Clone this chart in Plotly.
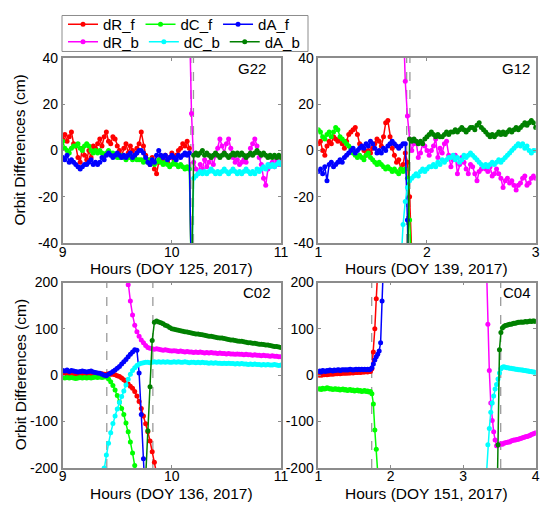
"""Orbit differences of forward (_f) and backward (_b) solutions around satellite manoeuvres."""
import numpy as np
import plotly.graph_objects as go

FONT = "Liberation Sans, Arial, sans-serif"
FRAME = "#8c8c8c"
W, H = 542, 501   # page adds an 8 px body margin on top/left

# sampling grids (hours), 72 s
t_g22 = np.round(np.arange(9.0, 11.0001, 0.02), 2)
t_g12 = np.round(np.arange(1.0, 3.0001, 0.02), 2)
t_c02 = np.round(np.arange(9.0, 11.0001, 0.02), 2)
t_c04 = np.round(np.arange(1.0, 4.0001, 0.02), 2)

# ---- G22, DOY 125 (cm) -- forward from grid start, backward up to grid end
dR_f_g22 = [5, 7, 4, 6, 8, 3, 2, -3, -5, 1, -2, -4, 0, -3, 2, 1, 3, 5, 2, 6, 8, 4, 3, 6, 5, 2,
            0, -2, 1, 3, -1, 2, 0, -2, 1, 3, 8, 2, -2, -4, -6, -3, -8, -10, -5, -3,
            -4, -2, -5, -3, -1, -4, -2, 0, 1, 3, 2, 4, 1, -60]
dC_f_g22 = [4, 1, 0, -1, 1, 2, 2, 3, 1, 0, 2, 3, 2, 0, -1, 0, -1, 0, -1, -2, -1, 0, -1, -1, -2, -3,
            -3, -2, -3, -4, -3, -3, -4, -3, -4, -4, -4, -5, -4, -5, -4, -5, -6, -5, -4, -5,
            -6, -5, -6, -7, -6, -5, -6, -7, -6, -7, -8, -7, -8, -60]
dA_f_g22 = [-3, -4, -2, -5, -4, -5, -6, -7, -8, -7, -6, -6, -5, -4, -6, -5, -6, -5, -3, -4, -2, -1, -2, -3, -2, -1,
            -2, -3, -2, -3, -2, -1, -3, -2, -1, 0, 0, -1, -3, -5, -6, -4, -5, -2, 0, -2,
            -3, -2, -4, -3, -2, -3, -4, -2, -3, -2, -1, -2, -1, -60]
dR_b_g22 = [60, 16, -5, -8, -10, -6, -8, -4, -7, -5, -3, -6, -2, 1, 5, 2, -1, 3, 5, 1, -3, -5, -4,
            -6, -5, -4, -5, -2, 1, 3, 5, 2, -3, -6, -12, -15, -8, -6, -5, -7, -4, -6, -5]
dC_b_g22 = [-100, -60, -12, -11, -10, -9, -10, -9, -10, -9, -8, -9, -10, -9, -10, -9, -8, -9, -10, -9, -8, -9, -10,
            -9, -10, -9, -8, -9, -10, -9, -10, -8, -9, -8, -7, -8, -6, -7, -6, -7, -6, -5, -6]
dA_b_g22 = [-100, -60, -2, -1, -2, -1, 0, -2, -1, -2, -3, -2, -1, -2, -3, -2, -1, -2, -3, -2, -1, -2, -1,
            -2, -1, -2, -3, -2, -1, -2, -1, 0, -1, -2, -1, -2, -3, -2, -3, -2, -3, -2, -3]

# ---- G12, DOY 139
dR_f_g12 = [3, 4, 0, -2, 2, 4, 3, 6, 5, 4, 5, 3, 1, 4, 7, 8, 9, 10, 7, 3, 2, 0, -2, 0, -1, 1, 3, 5, 4, 2,
            6, 12, 13, 6, 1, -2, -5, -4, -8, -6, -1, -5, -20, -45, -70]
dC_f_g12 = [9, 8, 6, 5, 7, 8, 6, 8, 10, 9, 6, 5, 4, 3, 2, 1, -1, -2, -3, -2, -3, -4, -2, -1, -3, -4, -5, -6, -5, -6,
            -7, -8, -7, -8, -9, -8, -9, -10, -8, -9, -8, -12, -30, -50]
dA_f_g12 = [-9, -8, -10, -7, -13, -6, -5, -7, -6, -5, -4, -5, -3, -2, -1, 0, 1, -1, 0, 1, 2, 1, 3, 2, 4, 3, 1, -1, 0, -1,
            1, 0, 2, 3, 4, 3, 2, 1, 2, 3, 3, -30, -80]
dR_b_g12 = [60, 30, 15, 5, 0, 3, 4, -3, -1, 3, 2, 0, -2, 0, 2, 5, -3, 1, -1, 3, 4, -2, -7,
            -4, -2, -10, -6, -3, -5, -8, -10, -6, -7, -10, -13, -9, -8, -7, -8, -9, -7, -11, -10,
            -8, -10, -12, -16, -13, -12, -14, -13, -15, -17, -15, -14, -12, -11, -15, -14, -12, -11, -12]
dC_b_g12 = [-50, -32, -22, -16, -13, -12, -11, -10, -11, -9, -8, -9, -8, -7, -7, -6, -7, -5, -6, -4, -5, -4, -3, -3,
            -2, -4, -3, -5, -4, -2, -3, -2, -1, -2, -3, -4, -5, -6, -7, -6, -7, -6, -5, -6,
            -5, -4, -5, -4, -3, -2, -1, 0, 1, 2, 3, 2, 3, 1, 2, 0, -1, 0, 0]
dA_b_g12 = [-60, 5, 4, 5, 4, 3, 4, 3, 5, 6, 7, 8, 7, 6, 7, 6, 6, 7, 8, 7, 8, 8, 9, 8, 9, 10, 9, 8, 9, 10, 10,
            9, 11, 12, 10, 9, 8, 7, 6, 7, 6, 7, 8, 7, 8, 7, 8, 9, 8, 9, 10, 9, 10, 11, 12, 11, 12, 13, 12, 10]

# ---- C02, DOY 136
dR_f_c02 = [2, 3, 2, 3, 2, 2, 3, 2, 3, 2, 2, 3, 2, 2, 3, 2, 3, 2, 3, 2, 2, 3, 2,
            2, 1, -1, -3, -6, -10, -14, -19, -24, -28, -35, -45, -57, -72, -88, -105, -122, -142, -165, -188, -212]
dC_f_c02 = [-5, -6, -5, -6, -5, -6, -7, -6, -5, -6, -5, -6, -5, -6, -5, -4, -5, -4, -5, -4, -4,
            -8, -14, -22, -32, -44, -58, -72, -85, -103, -122, -144, -168, -195, -222]
dA_f_c02 = [10, 9, 11, 8, 10, 9, 8, 7, 8, 9, 8, 7, 8, 9, 7, 6, 5, 4, 2,
            0, -1, 2, 5, 8, 11, 15, 19, 24, 29, 34, 40, 45, 50, 55, 54, 5, -85, -180, -280]
dR_b_c02 = [240, 195, 160, 130, 108, 94, 84, 76, 70, 64, 60, 58, 57, 56, 57, 56, 55, 54, 55, 54, 53,
            52, 53, 52, 51, 52, 51, 50, 51, 50, 50, 49, 50, 49, 50, 49, 48, 49, 48, 49, 48,
            48, 47, 48, 47, 47, 46, 47, 46, 46, 45, 46, 45, 45, 44, 45, 44, 44, 43, 44, 43,
            43, 42, 43, 42, 42, 41, 42, 41, 41, 40, 40]
dC_b_c02 = [-230, -200, -172, -147, -124, -104, -88, -73, -59, -46, -34, -21, -9, 2, 10, 16, 21, 24, 26, 27,
            28, 28, 27, 28, 29, 28, 29, 28, 29, 28, 29, 28,
            28, 29, 28, 29, 28, 28, 29, 28, 27, 28, 28, 27, 28, 27, 28, 27, 27, 26, 27, 26,
            27, 26, 26, 25, 26, 25, 26, 25, 25, 24, 25, 24, 25, 24, 24, 23, 24, 23, 24, 23,
            23, 22, 23, 22, 23, 22, 22, 23, 22, 21, 22]
dA_b_c02 = [-220, -120, -25, 75, 114, 117, 115, 113, 111, 108, 106, 103,
            100, 99, 98, 97, 96, 95, 94, 93, 92, 91, 90, 89, 89, 88, 87, 86, 85, 84, 84, 83,
            82, 81, 80, 80, 79, 78, 77, 76, 76, 75, 74, 73, 73, 72, 71, 70, 70, 69, 69, 68,
            67, 67, 66, 65, 65, 64, 63, 62, 62, 61, 60]

# ---- C04, DOY 151
dR_f_c04 = [0, 1, 0, 1, 1, 2, 1, 2, 2, 3, 2, 3, 3, 3, 4, 3, 4, 4, 5, 4, 5, 5, 5, 6, 5, 6, 6, 6, 7, 6, 7, 7, 7, 8, 7, 8, 8,
            14, 50, 100, 165, 225]
dC_f_c04 = [-30, -29, -31, -28, -30, -29, -27, -28, -30, -29, -31, -30, -29, -31, -30, -32, -31, -30, -32, -31,
            -33, -32, -31, -33, -32, -34, -33, -32, -34, -33, -35, -34, -33, -35, -34, -36, -35,
            -40, -62, -118, -160, -210]
dA_f_c04 = [8, 9, 7, 10, 9, 8, 10, 9, 11, 10, 9, 11, 10, 11, 12, 10, 11, 12, 11, 12, 11, 12, 13, 12, 11, 12, 13,
            12, 13, 12, 13, 12, 13, 12, 13, 12, 13, 16, 24, 33, 40, 45, 52, 70, 160, 245]
dR_b_c04 = [240, 110, 10, -60, -98, -122, -140, -152, -151, -149, -148, -149, -147, -146, -145, -144, -144, -142,
            -141, -140, -140, -139, -138, -137, -136, -135, -134, -133, -132, -131, -130, -128, -127, -126, -124]
dC_b_c04 = [-215, -150, -115, -80, -60, -45, -30, -20, -8, 5, 14, 17, 18, 17, 16,
            16, 15, 15, 14, 14, 13, 13, 12, 12, 11, 11, 10, 10, 9, 9, 8, 8, 7, 7, 6]
dA_b_c04 = [-350, -150, 55, 92, 102, 105, 107, 108, 109, 110, 110, 111, 112, 112, 113, 114, 114, 115, 114, 115,
            116, 115, 116, 117, 116, 117, 117, 116]

# manoeuvre / gap boundaries (hours)
marks_g22 = [10.174, 10.198]
marks_g12 = [1.813, 1.843]
marks_c02 = [9.404, 9.826]
marks_c04 = [1.737, 3.517]

NAMES = ["dR_f", "dC_f", "dA_f", "dR_b", "dC_b", "dA_b"]
COLORS = ["#ff0000", "#00ff00", "#0000ff", "#ff00ff", "#00ffff", "#008000"]

COL_L, COL_R = [0.1009, 0.5037], [0.5725, 0.9736]
ROW_T, ROW_B = [0.5383, 0.9128], [0.0832, 0.4585]

panels = [
    dict(label="G22", t=t_g22, xr=[9, 11], xt=[9, 10, 11], yr=[-40, 40], yt=[-40, -20, 0, 20, 40],
         marks=marks_g22, title="Hours (DOY 125, 2017)", lab_x=0.94,
         series=[dR_f_g22, dC_f_g22, dA_f_g22, dR_b_g22, dC_b_g22, dA_b_g22], dom=(COL_L, ROW_T)),
    dict(label="G12", t=t_g12, xr=[1, 3], xt=[1, 2, 3], yr=[-40, 40], yt=[-40, -20, 0, 20, 40],
         marks=marks_g12, title="Hours (DOY 139, 2017)", lab_x=0.983,
         series=[dR_f_g12, dC_f_g12, dA_f_g12, dR_b_g12, dC_b_g12, dA_b_g12], dom=(COL_R, ROW_T)),
    dict(label="C02", t=t_c02, xr=[9, 11], xt=[9, 10, 11], yr=[-200, 200], yt=[-200, -100, 0, 100, 200],
         marks=marks_c02, title="Hours (DOY 136, 2017)", lab_x=0.964,
         series=[dR_f_c02, dC_f_c02, dA_f_c02, dR_b_c02, dC_b_c02, dA_b_c02], dom=(COL_L, ROW_B)),
    dict(label="C04", t=t_c04, xr=[1, 4], xt=[1, 2, 3, 4], yr=[-200, 200], yt=[-200, -100, 0, 100, 200],
         marks=marks_c04, title="Hours (DOY 151, 2017)", lab_x=0.987,
         series=[dR_f_c04, dC_f_c04, dA_f_c04, dR_b_c04, dC_b_c04, dA_b_c04], dom=(COL_R, ROW_B)),
]

fig = go.Figure()
shapes, annotations = [], []
axis_style = dict(showline=True, mirror="ticks", linecolor=FRAME, linewidth=1.5, automargin=False,
                  ticks="inside", ticklen=3, tickcolor=FRAME, showgrid=False, zeroline=False,
                  tickfont=dict(size=14, color="black"))

for i, p in enumerate(panels):
    n = "" if i == 0 else str(i + 1)
    xa, ya = "x" + n, "y" + n
    for k, vals in enumerate(p["series"]):
        t = p["t"]
        x = t[:len(vals)] if k < 3 else t[-len(vals):]
        fig.add_trace(go.Scatter(
            x=x, y=vals, xaxis=xa, yaxis=ya, mode="lines+markers", name=NAMES[k],
            line=dict(color=COLORS[k], width=1.5), marker=dict(color=COLORS[k], size=5),
            showlegend=(i == 0), legend="legend" if k < 3 else "legend2",
        ))
    xdom, ydom = p["dom"]
    fig.layout["xaxis" + n] = dict(axis_style, domain=xdom, anchor=ya, range=p["xr"],
                                   tickvals=p["xt"], ticklabelstandoff=-5)
    fig.layout["yaxis" + n] = dict(axis_style, domain=ydom, anchor=xa, range=p["yr"],
                                   tickvals=p["yt"], ticktext=[str(v) for v in p["yt"]])
    for m in p["marks"]:
        shapes.append(dict(type="line", xref=xa, yref=ya + " domain", x0=m, x1=m, y0=0, y1=1,
                           line=dict(color="#9a9a9a", width=1.3, dash="dash"), layer="below"))
    annotations.append(dict(text=p["label"], xref=xa + " domain", yref=ya + " domain",
                            x=p["lab_x"], y=0.945, xanchor="right", yanchor="middle",
                            showarrow=False, font=dict(size=15)))
    # axis titles as annotations, so they sit as close to the ticks as in the original
    annotations.append(dict(text=p["title"], xref="paper", yref="paper",
                            x=sum(xdom) / 2, y=ydom[0] - 26 / H, xanchor="center", yanchor="middle",
                            showarrow=False, font=dict(size=15.5)))
    if i % 2 == 0:
        annotations.append(dict(text="Orbit Differences (cm)", xref="paper", yref="paper",
                                x=12 / W, y=sum(ydom) / 2, xanchor="center", yanchor="middle",
                                textangle=-90, showarrow=False, font=dict(size=15.5)))

# frame around the two legend rows
shapes.append(dict(type="rect", xref="paper", yref="paper", x0=54 / W, x1=300 / W,
                   y0=1 - 37 / H, y1=1 - 0.5 / H, line=dict(color=FRAME, width=1)))

legend_style = dict(orientation="h", xanchor="left", yanchor="middle", x=55 / W,
                    bgcolor="rgba(0,0,0,0)", font=dict(size=15), itemwidth=30)
fig.update_layout(
    width=W, height=H, margin=dict(l=0, r=0, t=0, b=0),
    paper_bgcolor="white", plot_bgcolor="white",
    font=dict(family=FONT, color="black"),
    legend=dict(legend_style, y=1 - 9.5 / H),
    legend2=dict(legend_style, y=1 - 27.5 / H),
    shapes=shapes, annotations=annotations,
)

fig.write_html("out.html")
